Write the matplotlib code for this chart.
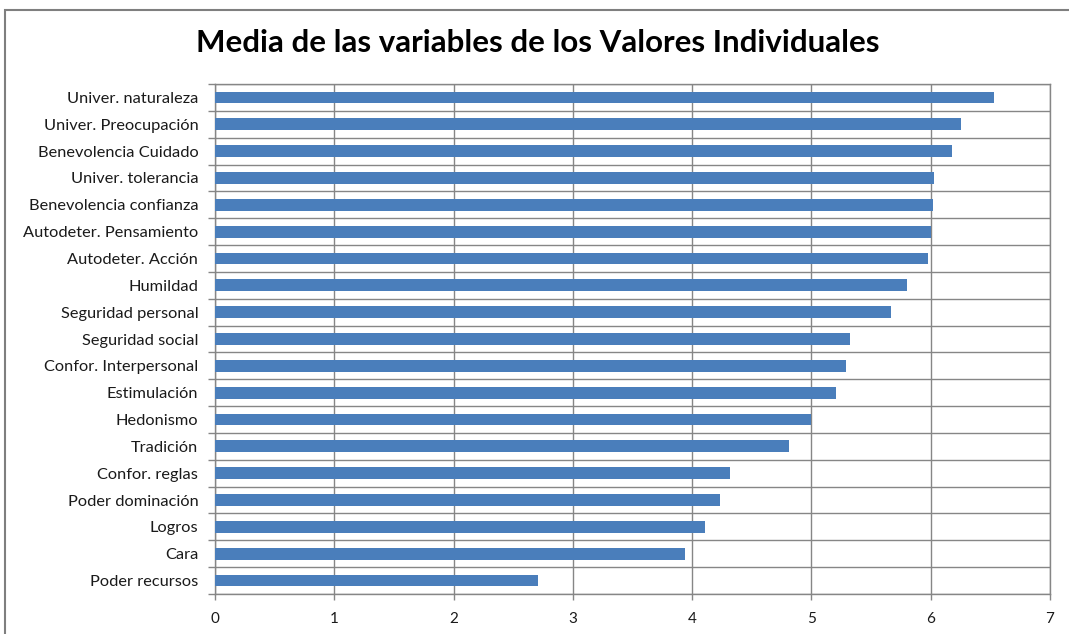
import matplotlib.pyplot as plt
from matplotlib.patches import Rectangle
import numpy as np

# categories listed bottom to top
categorias = ['Poder recursos', 'Cara', 'Logros', 'Poder dominación', 'Confor. reglas',
              'Tradición', 'Hedonismo', 'Estimulación', 'Confor. Interpersonal',
              'Seguridad social', 'Seguridad personal', 'Humildad', 'Autodeter. Acción',
              'Autodeter. Pensamiento', 'Benevolencia confianza', 'Univer. tolerancia',
              'Benevolencia Cuidado', 'Univer. Preocupación', 'Univer. naturaleza']
medias = [2.71, 3.94, 4.11, 4.23, 4.32,
          4.81, 5.00, 5.21, 5.29,
          5.32, 5.67, 5.80, 5.98,
          6.00, 6.02, 6.03,
          6.18, 6.25, 6.53]
xticks = [0, 1, 2, 3, 4, 5, 6, 7]

plt.rcParams['font.family'] = ['Lato', 'DejaVu Sans']

W, H = 1069, 634
fig = plt.figure(figsize=(W / 100, H / 100), dpi=100)
ax = fig.add_axes([215 / W, 1 - 594 / H, (1050 - 215) / W, (594 - 84) / H])

grid = '#868686'
y = np.arange(len(categorias))
ax.barh(y, medias, height=0.44, color='#4A7EBB', zorder=3)

ax.set_xlim(0, 7)
ax.set_ylim(-0.5, len(categorias) - 0.5)
ax.set_xticks(xticks)
ax.set_xticklabels([str(t) for t in xticks], fontsize=11, color='#1a1a1a')

# category labels sit between tick marks (Excel style)
ax.set_yticks(np.arange(-0.5, len(categorias), 1.0))
ax.set_yticklabels([])
ax.set_yticks(y, minor=True)
ax.set_yticklabels(categorias, minor=True, fontsize=11.8, color='#1a1a1a')
ax.tick_params(axis='y', which='minor', length=0, pad=12)
ax.tick_params(axis='y', which='major', length=5, color=grid, width=1)
ax.tick_params(axis='x', length=4, color=grid, width=1, pad=9)

ax.grid(True, which='major', color=grid, linewidth=1, zorder=0)
for s in ax.spines.values():
    s.set_color(grid)
    s.set_linewidth(1)

fig.text(538 / W, 1 - 43 / H, 'Media de las variables de los Valores Individuales',
         ha='center', va='center', fontsize=22.5, fontweight='bold', color='black')

# chart area frame
fig.patches.append(Rectangle((5 / W, -0.1), 1.2, 1 - 10 / H + 0.1, transform=fig.transFigure,
                             fill=False, edgecolor='#7f7f7f', linewidth=1.5))

plt.savefig('out.png', dpi=100)
